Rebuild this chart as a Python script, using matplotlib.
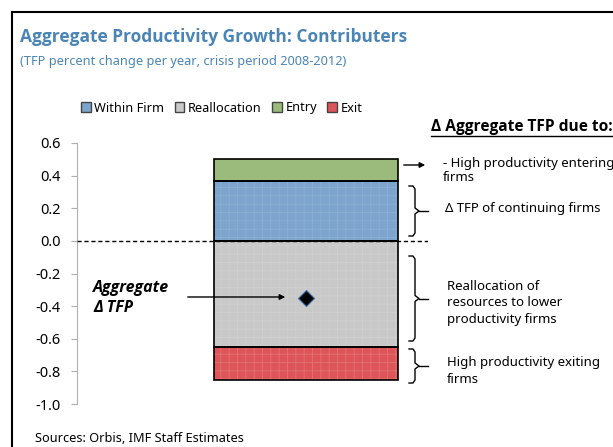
import matplotlib
matplotlib.use("Agg")
import matplotlib.pyplot as plt
from matplotlib.patches import Patch, FancyArrowPatch
from matplotlib.lines import Line2D
from matplotlib import font_manager as fm

def pick_bold(prefs):
    for fam in prefs:
        for f in fm.fontManager.ttflist:
            w = f.weight if isinstance(f.weight, int) else 400
            if f.name == fam and (w >= 600 or f.weight in ("bold", "semibold")):
                return fam
    return "DejaVu Sans"

BASE = "Noto Sans"
BOLD = pick_bold(["Open Sans", "Noto Sans", "Lato", "Roboto", "Liberation Sans"])
plt.rcParams['font.family'] = [BASE, 'DejaVu Sans']

# ---- data ----
categories = [""]
components = ["Within Firm", "Reallocation", "Entry", "Exit"]
within_firm = [0.37]
reallocation = [-0.65]
entry = [0.13]
exit_ = [-0.20]
aggregate = [-0.35]
yticks = [0.6, 0.4, 0.2, 0.0, -0.2, -0.4, -0.6, -0.8, -1.0]

colors = {"Within Firm": "#7da4cc", "Reallocation": "#c9c9c9",
          "Entry": "#9bbb7d", "Exit": "#dd5558"}
hatch_colors = {"Within Firm": "#8cb0d4", "Reallocation": "#cfcfcf",
                "Entry": "#9bbb7d", "Exit": "#e47272"}

W, H = 613, 447
fig = plt.figure(figsize=(W / 100, H / 100), dpi=100)
plt.rcParams['hatch.linewidth'] = 0.6

def fx(x):
    return x / W

def fy(y):
    return 1 - y / H

# frame
fig.add_artist(Line2D([fx(12), fx(12)], [fy(12), 0], color="black", lw=1.5))
fig.add_artist(Line2D([fx(12), 1.0], [fy(12), fy(12)], color="black", lw=1.5))

# titles
fig.text(fx(20), fy(37), "Aggregate Productivity Growth: Contributers", color="#4a85b5",
         fontsize=12.5, fontweight="bold", family=[BOLD, 'DejaVu Sans'], va="center", ha="left")
fig.text(fx(20), fy(61), "(TFP percent change per year, crisis period 2008-2012)", color="#4a85b5",
         fontsize=9.2, va="center", ha="left")

ax = fig.add_axes([fx(77), fy(404), fx(428) - fx(77), fy(143) - fy(404)])
x = list(range(len(categories)))
width = 0.6

def draw(vals, bottom, name):
    ax.bar(x, vals, width, bottom=bottom, color=colors[name], edgecolor="none", zorder=2)
    ax.bar(x, vals, width, bottom=bottom, color="none", edgecolor=hatch_colors[name],
           hatch="++", lw=0, zorder=2.5)
    ax.bar(x, vals, width, bottom=bottom, color="none", edgecolor="black", lw=1.2, zorder=3)

draw(within_firm, [0], "Within Firm")
draw(entry, within_firm, "Entry")
draw(reallocation, [0], "Reallocation")
draw(exit_, reallocation, "Exit")

ax.axhline(0, color="black", lw=1, ls=(0, (3, 2)), zorder=4)
ax.plot(x, aggregate, marker="D", color="black", markersize=8, markeredgecolor="#3b6fa8",
        markeredgewidth=0.8, ls="none", zorder=5)

ax.set_xlim(-0.746, 0.398)
ax.set_ylim(-1.0, 0.6)
ax.set_yticks(yticks)
ax.set_yticklabels([f"{v:.1f}" for v in yticks], fontsize=10.5)
ax.tick_params(axis="y", colors="#b0b0b0", labelcolor="black", length=4, pad=8)
ax.set_xticks([])
for s in ["top", "right", "bottom"]:
    ax.spines[s].set_visible(False)
ax.spines["left"].set_color("#b0b0b0")
ax.patch.set_alpha(0)

# legend
handles = [Patch(facecolor=colors[c], edgecolor="#444444", label=c) for c in components]
fig.legend(handles=handles, loc="center left", bbox_to_anchor=(fx(81), fy(108)), ncol=4,
           frameon=False, fontsize=9.2, handlelength=0.75, handleheight=0.75,
           handletextpad=0.3, columnspacing=0.8, borderaxespad=0, borderpad=0)

# right annotations
fig.text(fx(431), fy(127), "Δ Aggregate TFP due to:", fontsize=11.2, fontweight="bold",
         family=[BOLD, 'DejaVu Sans'], va="center", ha="left")
fig.add_artist(Line2D([fx(431), 1.0], [fy(135.5), fy(135.5)], color="black", lw=1))

fs = 9.5
fig.text(fx(443), fy(170.5), "- High productivity entering\nfirms", fontsize=fs, va="center",
         ha="left", linespacing=1.05)
fig.text(fx(445), fy(209), "Δ TFP of continuing firms", fontsize=fs, va="center", ha="left")
fig.text(fx(447), fy(303), "Reallocation of\nresources to lower\nproductivity firms", fontsize=fs,
         va="center", ha="left", linespacing=1.4)
fig.text(fx(447), fy(371), "High productivity exiting\nfirms", fontsize=fs, va="center",
         ha="left", linespacing=1.35)

# arrow from entry bar
fig.add_artist(FancyArrowPatch((fx(401), fy(165)), (fx(428), fy(165)),
               transform=fig.transFigure, arrowstyle="-|>", mutation_scale=8, color="black", lw=1))

def brace(y0, y1, x0=409, x1=419, xt=428):
    ym = (y0 + y1) / 2
    pts_x = [x0, x0 + 4, x0 + 6, x0 + 6, x1, x0 + 6, x0 + 6, x0 + 4, x0]
    pts_y = [y0, y0, y0 + 3, ym - 3, ym, ym + 3, y1 - 3, y1, y1]
    fig.add_artist(Line2D([fx(p) for p in pts_x], [fy(p) for p in pts_y], color="black", lw=1))
    fig.add_artist(Line2D([fx(x1), fx(xt)], [fy(ym), fy(ym)], color="black", lw=1))

brace(186, 236)
brace(256, 341)
brace(349, 383)

# left annotation
fig.text(fx(93), fy(298), "Aggregate\nΔ TFP", fontsize=11.5, fontweight="bold", style="italic",
         family=[BOLD, 'DejaVu Sans'], va="center", ha="left", linespacing=1.3)
fig.add_artist(FancyArrowPatch((fx(185), fy(297)), (fx(288), fy(297)),
               transform=fig.transFigure, arrowstyle="-|>", mutation_scale=8, color="black", lw=1))

fig.text(fx(35), fy(439), "Sources: Orbis, IMF Staff Estimates", fontsize=9.2, va="center", ha="left")

fig.savefig("out.png", dpi=100)
